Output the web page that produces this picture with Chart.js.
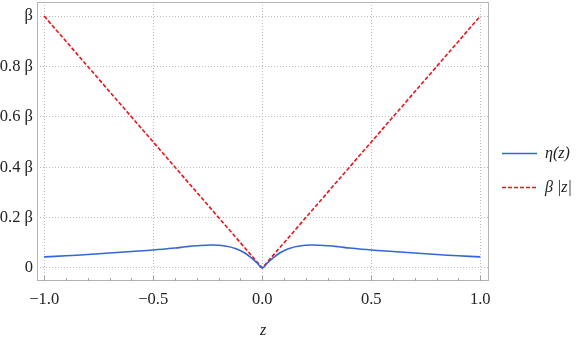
<!DOCTYPE html>
<html>
<head>
<meta charset="utf-8">
<script src="https://cdn.jsdelivr.net/npm/chart.js@4.4.1/dist/chart.umd.min.js"></script>
<style>
  html, body { margin: 0; padding: 0; background: #fff; }
  #wrap { position: relative; width: 581px; height: 340px; }
</style>
</head>
<body>
<div id="wrap"><canvas id="chart" width="581" height="340"></canvas></div>
<script>
// values
const zValues = [-1, -0.9, -0.8, -0.7, -0.6, -0.5, -0.4, -0.35, -0.3, -0.23, -0.17, -0.12, -0.08, -0.05, -0.025, 0,
                 0.025, 0.05, 0.08, 0.12, 0.17, 0.23, 0.3, 0.35, 0.4, 0.5, 0.6, 0.7, 0.8, 0.9, 1];
const etaValues = [0.044, 0.048, 0.053, 0.059, 0.065, 0.071, 0.079, 0.084, 0.088, 0.091, 0.087, 0.076, 0.059, 0.040, 0.021, 0,
                   0.021, 0.040, 0.059, 0.076, 0.087, 0.091, 0.088, 0.084, 0.079, 0.071, 0.065, 0.059, 0.053, 0.048, 0.044];
const absZ = [-1, 0, 1];
const betaAbsValues = [1, 0, 1];
const xTicks = [-1, -0.5, 0, 0.5, 1];
const xMinorTicks = [-0.9, -0.8, -0.7, -0.6, -0.4, -0.3, -0.2, -0.1, 0.1, 0.2, 0.3, 0.4, 0.6, 0.7, 0.8, 0.9];
const yTicks = [0, 0.2, 0.4, 0.6, 0.8, 1];
const yTickLabels = ['0', '0.2 β', '0.4 β', '0.6 β', '0.8 β', 'β'];
const seriesNames = ['η(z)', 'β |z|'];

const FONT = '"Liberation Serif", serif';
const blue = '#3366d6';
const red = '#e8141a';

function fmtX(v) {
  const s = Math.abs(v).toFixed(1);
  return v < 0 ? '\u2212' + s : s;
}

// frame + inward tick marks + legend
const decor = {
  id: 'decor',
  afterDraw(chart) {
    const c = chart.ctx, a = chart.chartArea;
    const xs = chart.scales.x;
    c.save();
    c.strokeStyle = '#b4b4b4';
    c.lineWidth = 1;
    c.strokeRect(a.left + 0.5, a.top + 0.5, a.right - a.left - 1, a.bottom - a.top - 1);
    c.strokeStyle = '#a0a0a0';
    c.beginPath();
    xTicks.forEach(v => {
      const px = Math.round(xs.getPixelForValue(v)) + 0.5;
      c.moveTo(px, a.bottom); c.lineTo(px, a.bottom - 5);
    });
    xMinorTicks.forEach(v => {
      const px = Math.round(xs.getPixelForValue(v)) + 0.5;
      c.moveTo(px, a.bottom); c.lineTo(px, a.bottom - 3);
    });
    c.stroke();

    // legend
    const ds = chart.data.datasets;
    const rows = [153, 187];
    ds.forEach((d, i) => {
      const y = rows[i] + 0.5;
      c.strokeStyle = d.borderColor;
      c.lineWidth = d.borderWidth;
      c.setLineDash(d.borderDash || []);
      c.beginPath(); c.moveTo(502, y); c.lineTo(537, y); c.stroke();
      c.setLineDash([]);
      c.fillStyle = '#222';
      c.font = 'italic 16px ' + FONT;
      c.textBaseline = 'middle';
      c.fillText(seriesNames[i], 545, y);
    });
    c.restore();
  }
};

new Chart(document.getElementById('chart'), {
  type: 'line',
  data: {
    datasets: [
      {
        label: seriesNames[0],
        data: zValues.map((z, i) => ({ x: z, y: etaValues[i] })),
        borderColor: blue,
        borderWidth: 1.6,
        pointRadius: 0,
        tension: 0.35,
        fill: false
      },
      {
        label: seriesNames[1],
        data: absZ.map((z, i) => ({ x: z, y: betaAbsValues[i] })),
        borderColor: red,
        borderWidth: 1.6,
        borderDash: [4, 2],
        pointRadius: 0,
        tension: 0,
        fill: false
      }
    ]
  },
  plugins: [decor],
  options: {
    responsive: false,
    animation: false,
    layout: { padding: { top: 2, right: 92, left: 0, bottom: 0 } },
    plugins: { legend: { display: false }, tooltip: { enabled: false } },
    scales: {
      x: {
        type: 'linear',
        min: -1.033,
        max: 1.04,
        afterFit: s => { s.height = 59; s.paddingLeft = 0; s.paddingRight = 0; },
        afterBuildTicks: s => { s.ticks = xTicks.map(v => ({ value: v })); },
        border: { display: false, dash: [1, 2] },
        grid: { color: '#bdbdbd', lineWidth: 1, drawTicks: false },
        ticks: {
          padding: 9,
          color: '#222',
          font: { family: FONT, size: 16.5 },
          callback: v => fmtX(v),
          maxRotation: 0
        },
        title: {
          display: true,
          text: 'z',
          color: '#222',
          font: { family: FONT, size: 16, style: 'italic' },
          padding: { top: 4, bottom: 0 }
        }
      },
      y: {
        min: -0.052,
        max: 1.056,
        afterFit: s => { s.width = 37; s.paddingTop = 0; s.paddingBottom = 0; },
        afterBuildTicks: s => { s.ticks = yTicks.map(v => ({ value: v })); },
        border: { display: false, dash: [1, 2] },
        grid: { color: '#bdbdbd', lineWidth: 1, drawTicks: false },
        ticks: {
          padding: 4,
          color: '#222',
          font: { family: FONT, size: 16.5 },
          callback: (v) => yTickLabels[yTicks.indexOf(v)]
        }
      }
    }
  }
});
</script>
</body>
</html>
